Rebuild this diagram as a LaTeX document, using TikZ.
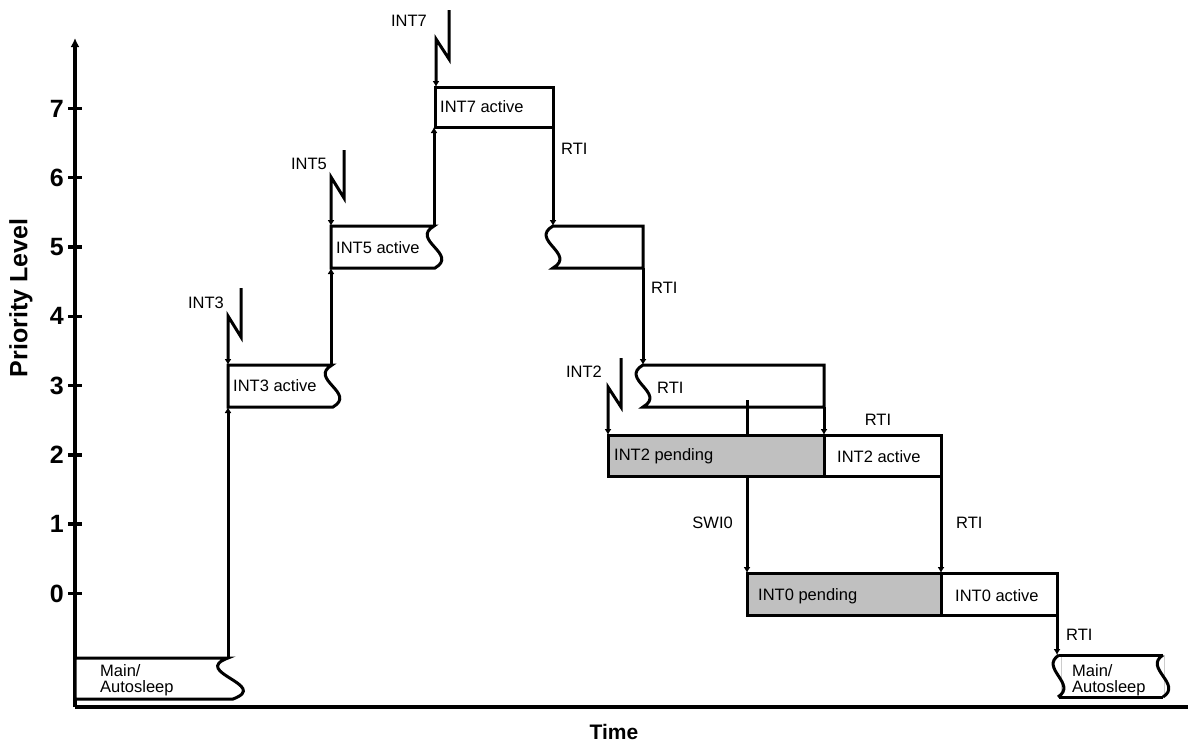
\documentclass[tikz,border=0pt]{standalone}
\usepackage{fontspec}
\setmainfont{Liberation Sans}
\usetikzlibrary{arrows.meta}
\definecolor{pend}{RGB}{192,192,192}
\begin{document}
\begin{tikzpicture}[x=1pt,y=-1pt,
  trace/.style={line width=3pt, line join=miter},
  arr/.style={trace, -{Latex[length=6pt,width=7pt]}},
  boxw/.style={trace, fill=white},
  boxg/.style={trace, fill=pend},
  lbl/.style={font=\fontsize{16.5}{16}\selectfont, inner sep=0pt, anchor=west},
  lblE/.style={lbl, anchor=east},
  tick/.style={line width=3.5pt},
  num/.style={font=\fontsize{25}{25}\selectfont\bfseries, inner sep=0pt, anchor=east}
]
\useasboundingbox (0,0) rectangle (1197,747);

% axes
\coordinate (O) at (75,707);
\coordinate (Ytop) at (75,38);
\coordinate (Xend) at (1188,707);
\draw[line width=3.5pt, -{Latex[length=9pt,width=9pt]}] (O) -- (Ytop);
\draw[line width=3.5pt] (O) -- (Xend);
\foreach \k in {0,...,7} {
  \pgfmathsetmacro{\yy}{593.5-69.3*\k}
  \draw[tick] (68,\yy) -- (82,\yy);
  \node[num] (n\k) at (64,\yy) {\k};
}
\node[font=\fontsize{25}{25}\selectfont\bfseries, rotate=90, inner sep=0pt] (ylab) at (21,298) {Priority Level};
\node[font=\fontsize{21}{21}\selectfont\bfseries, inner sep=0pt] (xlab) at (614,732) {Time};

% Main / Autosleep (start)
\draw[boxw] (75,658) -- (228,658) .. controls +(-38,14) and +(38,-14) .. (233,699) -- (75,699) -- cycle;
\node[lbl, align=left] (main1) at (100,680) {Main/\\Autosleep};

% INT3 active
\draw[boxw] (228,365) -- (332,365) .. controls +(-24,14) and +(24,-14) .. (333,407) -- (228,407) -- cycle;
\node[lbl] (int3a) at (233,386) {INT3 active};

% INT5 active
\draw[boxw] (331,226) -- (434,226) .. controls +(-24,14) and +(24,-14) .. (435,268) -- (331,268) -- cycle;
\node[lbl] (int5a) at (336,248) {INT5 active};

% INT7 active
\draw[boxw] (435,87) rectangle (553,127);
\node[lbl] (int7a) at (440,107) {INT7 active};

% level 5 return box
\draw[boxw] (553,226) -- (643,226) -- (643,268) -- (553,268) .. controls +(24,-14) and +(-24,14) .. (553,226) -- cycle;

% line SWI0 top part (covered by pending box)
\draw[trace] (747,400) -- (747,436);

% level 3 return box
\draw[boxw] (643,365) -- (824,365) -- (824,407) -- (643,407) .. controls +(24,-14) and +(-24,14) .. (643,365) -- cycle;
\draw[trace] (747,400) -- (747,407);

% INT2 pending / active
\draw[boxg] (608,435) rectangle (824,476);
\node[lbl] (int2p) at (614,456) {INT2 pending};
\draw[boxw] (824,435) rectangle (941,476);
\node[lbl] (int2a) at (837,457) {INT2 active};

% INT0 pending / active
\draw[boxg] (747,573) rectangle (941,615);
\node[lbl] (int0p) at (758,596) {INT0 pending};
\draw[boxw] (941,573) rectangle (1057,615);
\node[lbl] (int0a) at (955,596) {INT0 active};

% Main / Autosleep (end)
\draw[line width=0.6pt, gray!40] (1061,655) -- (1061,697) (1164,655) -- (1164,697);
\draw[trace] (1059,655) -- (1163,655);
\draw[trace] (1059,697) -- (1163,697);
\draw[trace] (1059,655) .. controls +(-20,13) and +(20,-13) .. (1058,697);
\draw[trace] (1163,655) .. controls +(-20,13) and +(20,-13) .. (1163,697);
\node[lbl, align=left] (main2) at (1072,680) {Main/\\Autosleep};

% upward transitions
\draw[arr] (228,658) -- (228,407);
\draw[arr] (331,365) -- (331,268);
\draw[arr] (434,226) -- (434,127);

% interrupt lightning
\draw[arr] (241,288) -- (241,337) -- (228,316) -- (228,365);
\node[lblE] (int3) at (224,303) {INT3};
\draw[arr] (344,150) -- (344,198) -- (331,177) -- (331,226);
\node[lblE] (int5) at (327,164) {INT5};
\draw[arr] (449,10) -- (449,59) -- (436,39) -- (436,87);
\node[lblE] (int7) at (427,21) {INT7};
\draw[arr] (621,358) -- (621,407) -- (608,387) -- (608,435);
\node[lblE] (int2) at (602,372) {INT2};

% returns
\draw[arr] (553,127) -- (553,226);
\node[lbl] (rti1) at (561,149) {RTI};
\draw[arr] (643,268) -- (643,365);
\node[lbl] (rti2) at (651,288) {RTI};
\node[lbl] (rti3) at (657,388) {RTI};
\draw[arr] (824,407) -- (824,435);
\node[lbl, anchor=center] (rti4) at (878,420) {RTI};
\draw[arr] (941,476) -- (941,573);
\node[lbl] (rti5) at (956,523) {RTI};
\draw[arr] (747,476) -- (747,573);
\node[lblE] (swi0) at (733,523) {SWI0};
\draw[arr] (1057,615) -- (1057,655);
\node[lbl] (rti6) at (1066,635) {RTI};
\end{tikzpicture}
\end{document}
